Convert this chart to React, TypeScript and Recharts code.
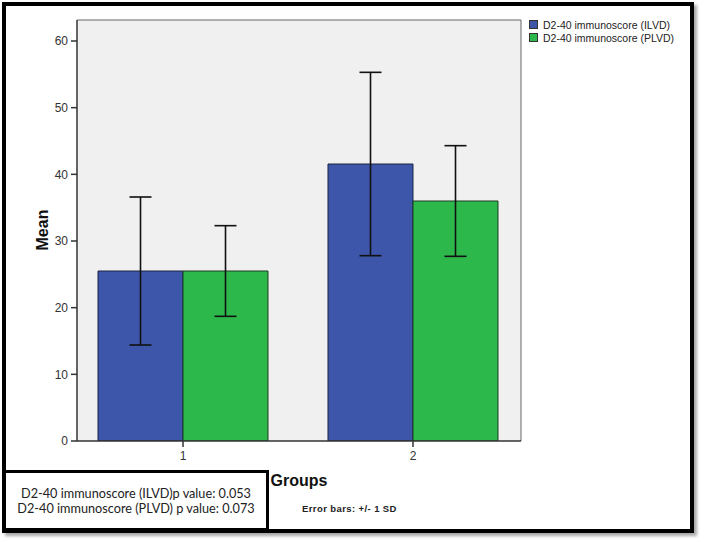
import React from 'react';
import { BarChart, Bar, XAxis, YAxis, CartesianGrid, ErrorBar, ReferenceLine } from 'recharts';

const groups = [1, 2];
const ilvdMean = [25.5, 41.55];
const plvdMean = [25.5, 36.0];
const ilvdSD = [11.1, 13.75];
const plvdSD = [6.8, 8.3];
const yTicks = [0, 10, 20, 30, 40, 50, 60];
const seriesNames = ['D2-40 immunoscore (ILVD)', 'D2-40 immunoscore (PLVD)'];
const pValueLines = ['D2-40 immunoscore (ILVD)p value: 0.053', 'D2-40 immunoscore (PLVD) p value: 0.073'];

const BLUE = '#3D56A9';
const GREEN = '#2DB84B';
const X_DOMAIN: [number, number] = [0.5391, 2.4696];
const Y_MAX = 63.15;

const data = groups.map((g, i) => ({
  group: g,
  ilvd: ilvdMean[i],
  plvd: plvdMean[i],
  ilvdSD: ilvdSD[i],
  plvdSD: plvdSD[i],
}));

const tickFont = { fontFamily: '"Liberation Sans", Arial, sans-serif', fontSize: 12, fill: '#333' };

export default function App() {
  return (
    <div style={{ position: 'absolute', left: 0, top: 0, width: 704, height: 542, background: '#fff', overflow: 'hidden' }}>
      <div
        style={{
          position: 'absolute', left: 2, top: 2, width: 692, height: 531,
          border: '4px solid #000', boxSizing: 'border-box',
          boxShadow: '3px 3px 3px rgba(0,0,0,0.35)',
        }}
      />
      <div style={{ position: 'absolute', left: 0, top: 0 }}>
        <BarChart
          width={704}
          height={542}
          data={data}
          margin={{ top: 20, right: 183, bottom: 71, left: 37 }}
          barGap={0}
          barSize={85}
        >
          <CartesianGrid fill="#F0F0F0" horizontal={false} vertical={false} />
          <XAxis
            dataKey="group"
            type="number"
            domain={X_DOMAIN}
            ticks={groups}
            allowDataOverflow
            height={30}
            tickSize={6}
            tickMargin={4}
            tick={tickFont}
            axisLine={{ stroke: '#333', strokeWidth: 1.5 }}
            tickLine={{ stroke: '#333', strokeWidth: 1.5 }}
          />
          <YAxis
            domain={[0, Y_MAX]}
            ticks={yTicks}
            allowDataOverflow
            width={40}
            tickSize={6}
            tickMargin={3}
            tick={tickFont}
            axisLine={{ stroke: '#333', strokeWidth: 1.5 }}
            tickLine={{ stroke: '#333', strokeWidth: 1.5 }}
          />
          <ReferenceLine y={Y_MAX} stroke="#666" strokeWidth={1} />
          <ReferenceLine x={X_DOMAIN[1]} stroke="#666" strokeWidth={1} />
          <Bar dataKey="ilvd" fill={BLUE} stroke="#1c2340" strokeWidth={1} isAnimationActive={false}>
            <ErrorBar dataKey="ilvdSD" width={11} stroke="#111" strokeWidth={1.6} direction="y" />
          </Bar>
          <Bar dataKey="plvd" fill={GREEN} stroke="#1c3a22" strokeWidth={1} isAnimationActive={false}>
            <ErrorBar dataKey="plvdSD" width={11} stroke="#111" strokeWidth={1.6} direction="y" />
          </Bar>
        </BarChart>
      </div>

      {/* Legend */}
      <div style={{ position: 'absolute', left: 529, top: 18, fontFamily: '"Liberation Sans", Arial, sans-serif', fontSize: 10.5, color: '#222' }}>
        {seriesNames.map((n, i) => (
          <div key={n} style={{ display: 'flex', alignItems: 'center', height: 13 }}>
            <span style={{ display: 'inline-block', width: 7, height: 7, background: i === 0 ? BLUE : GREEN, border: '1px solid #333', marginRight: 5 }} />
            <span>{n}</span>
          </div>
        ))}
      </div>

      {/* Y axis title */}
      <div
        style={{
          position: 'absolute', left: 43, top: 230, transform: 'translate(-50%, -50%) rotate(-90deg)',
          fontFamily: '"Liberation Sans", Arial, sans-serif', fontWeight: 'bold', fontSize: 16, color: '#111', whiteSpace: 'nowrap',
        }}
      >
        Mean
      </div>

      {/* X axis title */}
      <div
        style={{
          position: 'absolute', left: 299, top: 473, transform: 'translateX(-50%)', lineHeight: '16px',
          fontFamily: '"Liberation Sans", Arial, sans-serif', fontWeight: 'bold', fontSize: 16, color: '#111', whiteSpace: 'nowrap',
        }}
      >
        Groups
      </div>

      <div
        style={{
          position: 'absolute', left: 302, top: 503, lineHeight: '11px',
          fontFamily: '"Liberation Sans", Arial, sans-serif', fontWeight: 'bold', fontSize: 9.5, letterSpacing: 0.4, color: '#222', whiteSpace: 'nowrap',
        }}
      >
        Error bars: +/- 1 SD
      </div>

      {/* p-value box */}
      <div
        style={{
          position: 'absolute', left: 3, top: 470, width: 266, height: 61,
          border: '3px solid #000', boxSizing: 'border-box', background: '#fff',
          display: 'flex', flexDirection: 'column', justifyContent: 'center', alignItems: 'center',
          fontFamily: 'Lato, "Liberation Sans", sans-serif', fontSize: 12.7, color: '#222', lineHeight: '15px',
        }}
      >
        {pValueLines.map((l) => (
          <div key={l} style={{ whiteSpace: 'nowrap' }}>{l}</div>
        ))}
      </div>
    </div>
  );
}
